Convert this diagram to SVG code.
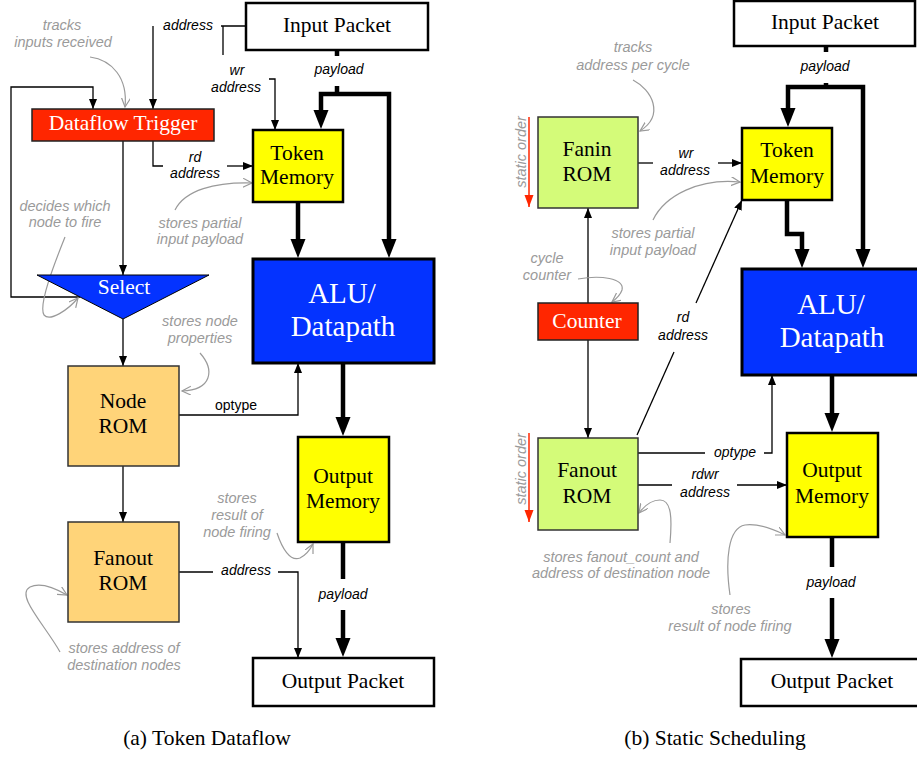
<svg xmlns="http://www.w3.org/2000/svg" width="917" height="757" viewBox="0 0 917 757">
<style>
.t{font-family:"Liberation Serif","Times New Roman",serif;font-size:21.5px;text-anchor:middle;fill:#000}
.w{fill:#fff}
.big{font-size:29px}
.lb{font-family:"Liberation Sans",Arial,sans-serif;font-size:14px;font-style:italic;text-anchor:middle;fill:#000}
.up{font-style:normal}
.an{font-family:"Liberation Sans",Arial,sans-serif;font-size:14.5px;font-style:italic;text-anchor:middle;fill:#9a9a9a}
.c{fill:none;stroke:#000;stroke-width:1.3}
.k{fill:none;stroke:#000;stroke-width:4.5;stroke-linejoin:miter}
.g{fill:none;stroke:#9a9a9a;stroke-width:1.2}
.pk{fill:#fff;stroke:#000;stroke-width:2.5}
.mem{fill:#ffff00;stroke:#000;stroke-width:2.5}
.alu{fill:#0433ff;stroke:#000;stroke-width:3}
.red{fill:#ff2600;stroke:#222;stroke-width:1.5}
.rom1{fill:#ffd479;stroke:#333;stroke-width:1.5}
.rom2{fill:#d4fb79;stroke:#333;stroke-width:1.5}
</style>
<defs>
<marker id="ah" markerUnits="userSpaceOnUse" markerWidth="11" markerHeight="9" refX="10" refY="4" orient="auto"><path d="M0,0 L10,4 L0,8 z" fill="#000"/></marker>
<marker id="ak" markerUnits="userSpaceOnUse" markerWidth="20" markerHeight="16" refX="10" refY="7.5" orient="auto"><path d="M0,0 L19,7.5 L0,15 z" fill="#000"/></marker>
<marker id="ag" markerUnits="userSpaceOnUse" markerWidth="11" markerHeight="10" refX="9" refY="4.5" orient="auto"><path d="M0,0 L9,4.5 L0,9" fill="none" stroke="#9a9a9a" stroke-width="1.2"/></marker>
<marker id="ar" markerUnits="userSpaceOnUse" markerWidth="13" markerHeight="10" refX="12" refY="4.5" orient="auto"><path d="M0,0 L12,4.5 L0,9 z" fill="#ff2600"/></marker>
</defs>

<g id="connectors">
<!-- left panel -->
<path class="c" d="M246,26 H221 M223,26 V55"/>
<path class="c" d="M153,26 V109" marker-end="url(#ah)"/>
<path class="c" d="M269,79 H275 V130" marker-end="url(#ah)"/>
<path class="k" d="M337,50 V56 M337,86 V94"/>
<path class="k" d="M337,94 H321 V120" marker-end="url(#ak)"/>
<path class="k" d="M337,94 H389 V249" marker-end="url(#ak)"/>
<path class="k" d="M298,202 V249" marker-end="url(#ak)"/>
<path class="k" d="M343,363 V427" marker-end="url(#ak)"/>
<path class="k" d="M343,542 V579"/>
<path class="k" d="M343,610 V648" marker-end="url(#ak)"/>
<path class="c" d="M80,297 H11 V87 H93 V109" marker-end="url(#ah)"/>
<path class="c" d="M123,141 V275" marker-end="url(#ah)"/>
<path class="c" d="M153,141 V166 H163"/>
<path class="c" d="M227,166 H253" marker-end="url(#ah)"/>
<path class="c" d="M123,319 V366" marker-end="url(#ah)"/>
<path class="c" d="M179,415 H298 V363" marker-end="url(#ah)"/>
<path class="c" d="M123,466 V522" marker-end="url(#ah)"/>
<path class="c" d="M179,572 H213"/>
<path class="c" d="M278,572 H298 V658" marker-end="url(#ah)"/>
<!-- right panel -->
<path class="k" d="M826,46 V52 M826,83 V87"/>
<path class="k" d="M826,87 H788 V118" marker-end="url(#ak)"/>
<path class="k" d="M826,87 H863 V259" marker-end="url(#ak)"/>
<path class="k" d="M787,200 V234 H802 V259" marker-end="url(#ak)"/>
<path class="k" d="M832,375 V423" marker-end="url(#ak)"/>
<path class="k" d="M832,537 V567"/>
<path class="k" d="M832,598 V649" marker-end="url(#ak)"/>
<path class="c" d="M638,163 H653"/>
<path class="c" d="M718,163 H742" marker-end="url(#ah)"/>
<path class="c" d="M588,303 V208" marker-end="url(#ah)"/>
<path class="c" d="M588,340 V438" marker-end="url(#ah)"/>
<path class="c" d="M637,435 L674,352"/>
<path class="c" d="M696,303 L742,200" marker-end="url(#ah)"/>
<path class="c" d="M638,453 H705"/>
<path class="c" d="M764,453 H772 V375" marker-end="url(#ah)"/>
<path class="c" d="M638,485 H672"/>
<path class="c" d="M737,485 H787" marker-end="url(#ah)"/>
<!-- static order arrows -->
<path d="M529,117 V207" stroke="#ff2600" stroke-width="1.5" marker-end="url(#ar)"/>
<path d="M529,433 V522" stroke="#ff2600" stroke-width="1.5" marker-end="url(#ar)"/>
</g>

<g id="annotations">
<path class="g" d="M90,57 C112,60 128,78 125,107" marker-end="url(#ag)"/>
<path class="g" d="M65,237 C55,262 38,305 44,315 C50,322 68,310 78,298" marker-end="url(#ag)"/>
<path class="g" d="M175,210 C185,190 215,182 252,183" marker-end="url(#ag)"/>
<path class="g" d="M200,353 C215,370 212,390 182,391" marker-end="url(#ag)"/>
<path class="g" d="M277,533 C282,548 290,562 300,558 C306,555 310,550 313,544" marker-end="url(#ag)"/>
<path class="g" d="M60,652 C45,625 15,595 30,587 C40,582 55,588 67,595" marker-end="url(#ag)"/>
<path class="g" d="M633,80 C652,90 665,115 640,131" marker-end="url(#ag)"/>
<path class="g" d="M653,220 C665,195 700,178 740,182" marker-end="url(#ag)"/>
<path class="g" d="M578,279 C600,275 625,278 622,290 C620,296 616,299 612,302" marker-end="url(#ag)"/>
<path class="g" d="M670,543 C672,520 672,500 660,500 C652,500 645,505 639,513" marker-end="url(#ag)"/>
<path class="g" d="M730,595 C725,560 728,528 745,525 C760,523 775,530 785,535" marker-end="url(#ag)"/>
<text class="an" x="62" y="30">tracks</text>
<text class="an" x="63" y="47">inputs received</text>
<text class="an" x="65" y="211">decides which</text>
<text class="an" x="65" y="227">node to fire</text>
<text class="an" x="200" y="228">stores partial</text>
<text class="an" x="200" y="244">input payload</text>
<text class="an" x="200" y="326">stores node</text>
<text class="an" x="200" y="343">properties</text>
<text class="an" x="237" y="503">stores</text>
<text class="an" x="237" y="520">result of</text>
<text class="an" x="237" y="537">node firing</text>
<text class="an" x="124" y="653">stores address of</text>
<text class="an" x="124" y="670">destination nodes</text>
<text class="an" x="633" y="52">tracks</text>
<text class="an" x="633" y="70">address per cycle</text>
<text class="an" x="653" y="238">stores partial</text>
<text class="an" x="653" y="255">input payload</text>
<text class="an" x="547" y="263">cycle</text>
<text class="an" x="547" y="280">counter</text>
<text class="an" x="621" y="562">stores fanout_count and</text>
<text class="an" x="621" y="578">address of destination node</text>
<text class="an" x="731" y="614">stores</text>
<text class="an" x="730" y="631">result of node firing</text>
<text class="an" transform="translate(526,152) rotate(-90)">static order</text>
<text class="an" transform="translate(526,469) rotate(-90)">static order</text>
</g>

<g id="labels">
<text class="lb" x="188" y="30">address</text>
<text class="lb" x="237" y="75">wr</text>
<text class="lb" x="236" y="92">address</text>
<text class="lb" x="339" y="74">payload</text>
<text class="lb" x="195" y="162">rd</text>
<text class="lb" x="195" y="178">address</text>
<text class="lb up" x="236" y="410">optype</text>
<text class="lb" x="246" y="575">address</text>
<text class="lb" x="343" y="599">payload</text>
<text class="lb" x="825" y="71">payload</text>
<text class="lb" x="686" y="158">wr</text>
<text class="lb" x="685" y="175">address</text>
<text class="lb" x="683" y="322">rd</text>
<text class="lb" x="683" y="340">address</text>
<text class="lb" x="735" y="457">optype</text>
<text class="lb" x="705" y="479">rdwr</text>
<text class="lb" x="705" y="497">address</text>
<text class="lb" x="831" y="587">payload</text>
</g>

<g id="a-input-packet"><rect class="pk" x="246" y="3" width="182" height="47"/><text class="t" x="337" y="32">Input Packet</text></g>
<g id="a-dataflow-trigger"><rect class="red" x="32" y="109" width="182" height="32"/><text class="t w" x="123" y="130">Dataflow Trigger</text></g>
<g id="a-token-memory"><rect class="mem" x="253" y="130" width="90" height="72"/><text class="t" x="297" y="160">Token</text><text class="t" x="297" y="184">Memory</text></g>
<g id="a-select"><path d="M37,275 H209 L123,319 Z" fill="#0433ff" stroke="#000" stroke-width="1"/><text class="t w" x="124" y="294">Select</text></g>
<g id="a-alu"><rect class="alu" x="253" y="259" width="181" height="104"/><text class="t w big" x="342" y="303">ALU/</text><text class="t w big" x="343" y="336">Datapath</text></g>
<g id="a-node-rom"><rect class="rom1" x="68" y="366" width="111" height="100"/><text class="t" x="123" y="408">Node</text><text class="t" x="123" y="433">ROM</text></g>
<g id="a-output-memory"><rect class="mem" x="298" y="437" width="91" height="105"/><text class="t" x="343" y="483">Output</text><text class="t" x="343" y="508">Memory</text></g>
<g id="a-fanout-rom"><rect class="rom1" x="68" y="522" width="111" height="100"/><text class="t" x="123" y="565">Fanout</text><text class="t" x="123" y="590">ROM</text></g>
<g id="a-output-packet"><rect class="pk" x="253" y="658" width="181" height="48"/><text class="t" x="343" y="688">Output Packet</text></g>

<g id="b-input-packet"><rect class="pk" x="734" y="1" width="181" height="45"/><text class="t" x="825" y="29">Input Packet</text></g>
<g id="b-fanin-rom"><rect class="rom2" x="538" y="117" width="100" height="91"/><text class="t" x="587" y="156">Fanin</text><text class="t" x="587" y="181">ROM</text></g>
<g id="b-token-memory"><rect class="mem" x="742" y="128" width="90" height="72"/><text class="t" x="787" y="157">Token</text><text class="t" x="787" y="183">Memory</text></g>
<g id="b-counter"><rect class="red" x="538" y="303" width="100" height="37"/><text class="t w" x="587" y="328">Counter</text></g>
<g id="b-alu"><rect class="alu" x="742" y="269" width="182" height="106"/><text class="t w big" x="831" y="314">ALU/</text><text class="t w big" x="832" y="347">Datapath</text></g>
<g id="b-fanout-rom"><rect class="rom2" x="538" y="438" width="100" height="92"/><text class="t" x="587" y="477">Fanout</text><text class="t" x="587" y="503">ROM</text></g>
<g id="b-output-memory"><rect class="mem" x="787" y="433" width="91" height="104"/><text class="t" x="832" y="477">Output</text><text class="t" x="832" y="503">Memory</text></g>
<g id="b-output-packet"><rect class="pk" x="741" y="659" width="182" height="47"/><text class="t" x="832" y="688">Output Packet</text></g>

<g id="captions">
<text class="t" x="207" y="745">(a) Token Dataflow</text>
<text class="t" x="715" y="745">(b) Static Scheduling</text>
</g>
</svg>
